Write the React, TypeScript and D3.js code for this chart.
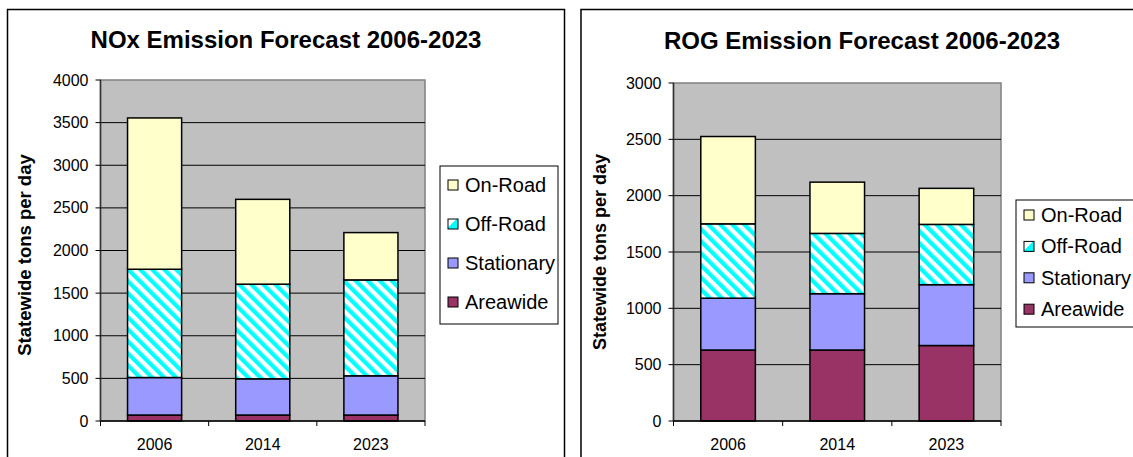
import React from "react";
import * as d3 from "d3";

// categories and series (tons per day)
const years = ["2006", "2014", "2023"];
const seriesNames = ["Areawide", "Stationary", "Off-Road", "On-Road"];

const noxAreawide = [70, 70, 70];
const noxStationary = [440, 425, 460];
const noxOffRoad = [1270, 1110, 1125];
const noxOnRoad = [1775, 995, 555];

const rogAreawide = [630, 630, 670];
const rogStationary = [460, 500, 540];
const rogOffRoad = [660, 535, 535];
const rogOnRoad = [775, 455, 320];

const noxTicks = [0, 500, 1000, 1500, 2000, 2500, 3000, 3500, 4000];
const rogTicks = [0, 500, 1000, 1500, 2000, 2500, 3000];

const fills: Record<string, string> = {
  Areawide: "#993366",
  Stationary: "#9999FF",
  "Off-Road": "url(#hatch)",
  "On-Road": "#FFFFCC",
};
const legendFills: Record<string, string> = {
  ...fills,
  "Off-Road": "url(#hatchSwatch)",
};

const font = "'Liberation Sans', Arial, sans-serif";

function buildRows(values: number[][]) {
  return years.map((y, i) => {
    const row: any = { year: y };
    seriesNames.forEach((s, j) => (row[s] = values[j][i]));
    return row;
  });
}

type Layout = {
  frameX: number;
  frameW: number;
  x0: number;
  x1: number;
  yTop: number;
  yBottom: number;
  titleX: number;
  titleY: number;
  yTitleX: number;
  yTitleY: number;
  yTitleSize: number;
  legX: number;
  legY: number;
  legW: number;
  legH: number;
  rowY0: number;
  rowStep: number;
};

function Chart(props: {
  title: string;
  rows: any[];
  ticks: number[];
  layout: Layout;
}) {
  const { title, rows, ticks, layout: L } = props;
  const x = d3
    .scaleBand()
    .domain(years)
    .range([L.x0, L.x1])
    .paddingInner(0.5)
    .paddingOuter(0.25);
  const y = d3
    .scaleLinear()
    .domain([0, d3.max(ticks) as number])
    .range([L.yBottom, L.yTop]);
  const stacked = d3.stack().keys(seriesNames)(rows);
  const step = (L.x1 - L.x0) / years.length;
  const legendOrder = seriesNames.slice().reverse();

  return (
    <g fontFamily={font}>
      {/* outer chart frame */}
      <rect
        x={L.frameX}
        y={9.5}
        width={L.frameW}
        height={470}
        fill="#fff"
        stroke="#000"
        strokeWidth={1.5}
      />
      <text
        x={L.titleX}
        y={L.titleY}
        textAnchor="middle"
        fontSize={24}
        fontWeight="bold"
      >
        {title}
      </text>

      {/* plot area */}
      <rect
        x={L.x0}
        y={L.yTop}
        width={L.x1 - L.x0}
        height={L.yBottom - L.yTop}
        fill="#C0C0C0"
        stroke="#808080"
        strokeWidth={1.5}
      />
      {ticks.slice(1, -1).map((t) => (
        <line
          key={t}
          x1={L.x0}
          x2={L.x1}
          y1={y(t)}
          y2={y(t)}
          stroke="#000"
          strokeWidth={1}
        />
      ))}

      {/* bars */}
      {stacked.map((layer) =>
        layer.map((d, i) => (
          <rect
            key={layer.key + i}
            x={x(years[i])}
            y={y(d[1])}
            width={x.bandwidth()}
            height={y(d[0]) - y(d[1])}
            fill={fills[layer.key]}
            stroke="#000"
            strokeWidth={1.5}
          />
        ))
      )}

      {/* y axis */}
      <line x1={L.x0} x2={L.x0} y1={L.yTop} y2={L.yBottom} stroke="#333" strokeWidth={1.5} />
      {ticks.map((t) => (
        <g key={t}>
          <line x1={L.x0 - 5} x2={L.x0} y1={y(t)} y2={y(t)} stroke="#000" />
          <text
            x={L.x0 - 12}
            y={y(t)}
            dy="0.35em"
            textAnchor="end"
            fontSize={16}
          >
            {t}
          </text>
        </g>
      ))}
      <text
        transform={`translate(${L.yTitleX},${L.yTitleY}) rotate(-90)`}
        textAnchor="middle"
        dy="0.35em"
        fontSize={L.yTitleSize}
        fontWeight="bold"
      >
        Statewide tons per day
      </text>

      {/* x axis */}
      <line x1={L.x0} x2={L.x1} y1={L.yBottom} y2={L.yBottom} stroke="#000" strokeWidth={1.5} />
      {d3.range(years.length + 1).map((i) => (
        <line
          key={i}
          x1={L.x0 + i * step}
          x2={L.x0 + i * step}
          y1={L.yBottom}
          y2={L.yBottom + 5}
          stroke="#000"
        />
      ))}
      {years.map((yr) => (
        <text
          key={yr}
          x={(x(yr) as number) + x.bandwidth() / 2}
          y={450}
          textAnchor="middle"
          fontSize={16}
        >
          {yr}
        </text>
      ))}

      {/* legend */}
      <rect
        x={L.legX}
        y={L.legY}
        width={L.legW}
        height={L.legH}
        fill="#fff"
        stroke="#000"
        strokeWidth={1}
      />
      {legendOrder.map((s, i) => (
        <g key={s} transform={`translate(${L.legX + 8},${L.rowY0 + i * L.rowStep})`}>
          <rect x={0} y={-5} width={10} height={10} fill={legendFills[s]} stroke="#000" strokeWidth={1} />
          <text x={17} dy="0.35em" fontSize={20}>
            {s}
          </text>
        </g>
      ))}
    </g>
  );
}

export default function App() {
  const noxRows = buildRows([noxAreawide, noxStationary, noxOffRoad, noxOnRoad]);
  const rogRows = buildRows([rogAreawide, rogStationary, rogOffRoad, rogOnRoad]);

  return (
    <svg
      width={1133}
      height={457}
      style={{ position: "absolute", left: 0, top: 0, background: "#fff" }}
    >
      <defs>
        <pattern
          id="hatch"
          patternUnits="userSpaceOnUse"
          width={8.5}
          height={8.5}
          patternTransform="rotate(-45)"
        >
          <rect width={8.5} height={8.5} fill="#fff" />
          <rect width={4.25} height={8.5} fill="#00FFFF" />
        </pattern>
        <linearGradient id="hatchSwatch" x1="0" y1="0" x2="1" y2="1">
          <stop offset="0" stopColor="#fff" />
          <stop offset="0.45" stopColor="#fff" />
          <stop offset="0.45" stopColor="#00FFFF" />
          <stop offset="1" stopColor="#00FFFF" />
        </linearGradient>
      </defs>
      <Chart
        title="NOx Emission Forecast 2006-2023"
        rows={noxRows}
        ticks={noxTicks}
        layout={{
          frameX: 7.5,
          frameW: 557,
          x0: 100.5,
          x1: 425,
          yTop: 80,
          yBottom: 421,
          titleX: 286,
          titleY: 48,
          yTitleX: 25,
          yTitleY: 255,
          yTitleSize: 18.5,
          legX: 440,
          legY: 166,
          legW: 118,
          legH: 158,
          rowY0: 185,
          rowStep: 39,
        }}
      />
      <Chart
        title="ROG Emission Forecast 2006-2023"
        rows={rogRows}
        ticks={rogTicks}
        layout={{
          frameX: 581,
          frameW: 600,
          x0: 673.5,
          x1: 1001,
          yTop: 83,
          yBottom: 421,
          titleX: 862,
          titleY: 49,
          yTitleX: 600,
          yTitleY: 252,
          yTitleSize: 18,
          legX: 1016,
          legY: 200,
          legW: 130,
          legH: 127,
          rowY0: 215,
          rowStep: 31.4,
        }}
      />
    </svg>
  );
}
